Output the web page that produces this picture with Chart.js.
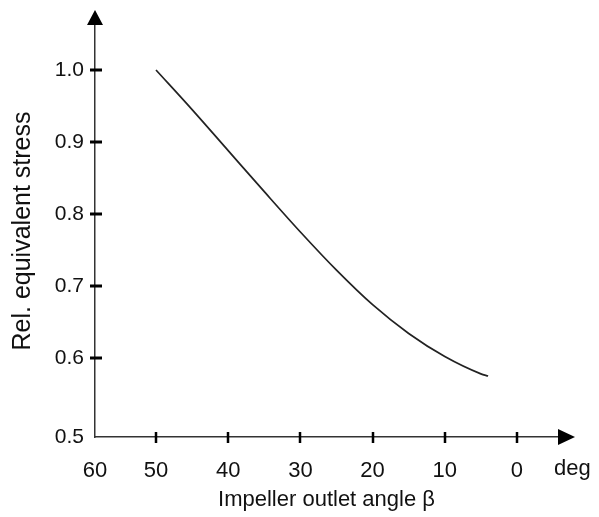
<!DOCTYPE html>
<html>
<head>
<meta charset="utf-8">
<script src="https://cdn.jsdelivr.net/npm/chart.js@4/dist/chart.umd.min.js"></script>
<style>
  html, body { margin: 0; padding: 0; background: #fff; }
  #wrap { width: 599px; height: 517px; position: relative; }
</style>
</head>
<body>
<div id="wrap"><canvas id="c"></canvas></div>
<script>
// ---- data ----
const angles = [50, 45, 40, 35, 30, 25, 20, 15, 10, 5, 4];
const stress = [1.0, 0.945, 0.888, 0.831, 0.775, 0.722, 0.674, 0.634, 0.602, 0.578, 0.575];
const xTickLabels = [60, 50, 40, 30, 20, 10, 0];
const yTickLabels = [0.5, 0.6, 0.7, 0.8, 0.9, 1.0];
const xTitle = 'Impeller outlet angle β';
const yTitle = 'Rel. equivalent stress';
const xUnit = 'deg';

const FONT = 'Arial, "Liberation Sans", Helvetica, sans-serif';

const decor = {
  id: 'decor',
  afterDraw(chart) {
    const ctx = chart.ctx;
    const xs = chart.scales.x, ys = chart.scales.y;
    const a = chart.chartArea;
    ctx.save();
    ctx.fillStyle = '#000';
    // y tick marks
    yTickLabels.forEach(v => {
      if (v === yTickLabels[0]) return;
      const py = Math.round(ys.getPixelForValue(v));
      ctx.fillRect(a.left - 5, py - 1.5, 12, 3);
    });
    // x tick marks
    xTickLabels.forEach(v => {
      if (v === xTickLabels[0]) return;
      const px = Math.round(xs.getPixelForValue(v));
      ctx.fillRect(px - 1.25, a.bottom - 5, 2.5, 11);
    });
    // arrows
    ctx.beginPath();
    ctx.moveTo(a.left, a.top - 15);
    ctx.lineTo(a.left - 8, a.top);
    ctx.lineTo(a.left + 8, a.top);
    ctx.closePath();
    ctx.fill();
    ctx.beginPath();
    ctx.moveTo(a.right + 17, a.bottom);
    ctx.lineTo(a.right, a.bottom - 8);
    ctx.lineTo(a.right, a.bottom + 8);
    ctx.closePath();
    ctx.fill();
    // unit label
    ctx.fillStyle = '#111';
    ctx.font = '22px ' + FONT;
    ctx.textAlign = 'left';
    ctx.textBaseline = 'middle';
    ctx.fillText(xUnit, a.right - 4, 469);
    ctx.restore();
  }
};

new Chart(document.getElementById('c'), {
  type: 'line',
  data: {
    datasets: [{
      data: angles.map((x, i) => ({ x: x, y: stress[i] })),
      borderColor: '#222',
      borderWidth: 1.7,
      pointRadius: 0,
      fill: false,
      cubicInterpolationMode: 'monotone'
    }]
  },
  options: {
    responsive: true,
    maintainAspectRatio: false,
    animation: false,
    events: [],
    layout: { padding: { left: 0, right: 41, top: 25, bottom: 0 } },
    plugins: { legend: { display: false }, tooltip: { enabled: false } },
    scales: {
      x: {
        type: 'linear',
        reverse: true,
        min: -5.68,
        max: 58.45,
        afterFit(s) { s.height = 80; },
        afterBuildTicks(s) {
          s.ticks = xTickLabels.map(v => ({ value: v === xTickLabels[0] ? s.max : v }));
        },
        grid: { drawOnChartArea: false, drawTicks: false },
        border: { display: true, color: '#333', width: 1.5 },
        ticks: {
          autoSkip: false, maxRotation: 0, padding: 21,
          color: '#111', font: { family: FONT, size: 22 },
          callback: (v, i) => String(xTickLabels[i])
        },
        title: {
          display: true, text: xTitle, color: '#111',
          font: { family: FONT, size: 22 },
          padding: { top: 0, bottom: 4 }
        }
      },
      y: {
        type: 'linear',
        min: 0.4903,
        max: 1.0625,
        afterFit(s) { s.width = 95; },
        afterBuildTicks(s) {
          s.ticks = yTickLabels.map(v => ({ value: v === yTickLabels[0] ? s.min : v }));
        },
        grid: { drawOnChartArea: false, drawTicks: false },
        border: { display: true, color: '#333', width: 1.5 },
        ticks: {
          autoSkip: false, padding: 11,
          color: '#111', font: { family: FONT, size: 21 },
          callback: (v, i) => yTickLabels[i].toFixed(1)
        },
        title: {
          display: true, text: yTitle, color: '#111',
          font: { family: FONT, size: 25 },
          padding: { top: 8, bottom: 0 }
        }
      }
    }
  },
  plugins: [decor]
});
</script>
</body>
</html>
